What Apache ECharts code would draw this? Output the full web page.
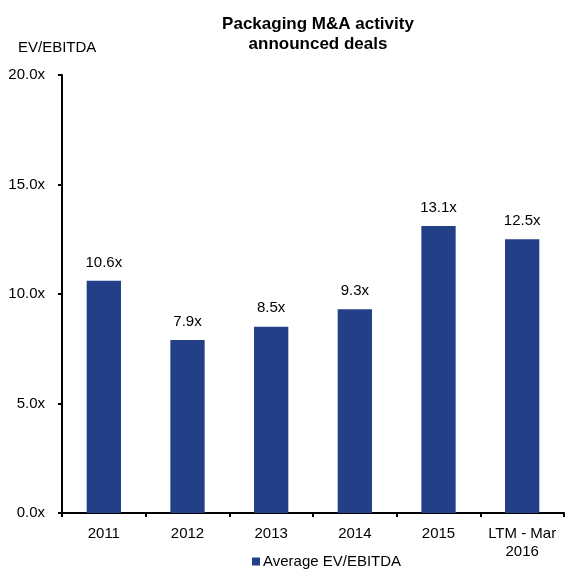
<!DOCTYPE html>
<html><head><meta charset="utf-8">
<script src="https://cdn.jsdelivr.net/npm/echarts@6/dist/echarts.min.js"></script>
<style>html,body{margin:0;padding:0;background:#fff}#c{width:566px;height:576px}</style>
</head><body><div id="c"></div>
<script>
const categories = ['2011', '2012', '2013', '2014', '2015', 'LTM - Mar\n2016'];
const values = [10.6, 7.9, 8.5, 9.3, 13.1, 12.5];
const seriesName = 'Average EV/EBITDA';
const font = 'Arial, "Liberation Sans", sans-serif';
const chart = echarts.init(document.getElementById('c'));
chart.setOption({
  animation: false,
  textStyle: { fontFamily: font },
  title: {
    text: 'Packaging M&A activity\nannounced deals',
    left: 313, textAlign: 'center', top: 9,
    textStyle: { fontSize: 17, fontWeight: 'bold', color: '#000', lineHeight: 20, fontFamily: font }
  },
  graphic: [{ type: 'text', left: 18, top: 40, style: { text: 'EV/EBITDA', fontSize: 15, fill: '#000', fontFamily: font } }],
  legend: {
    bottom: 2, left: 247, itemWidth: 8, itemHeight: 8, itemGap: 5,
    icon: 'rect',
    textStyle: { fontSize: 15, color: '#000', fontFamily: font, padding: [0, 0, 0, -2] },
    data: [seriesName]
  },
  grid: { left: 62, right: 2, top: 75, bottom: 63, containLabel: false },
  xAxis: {
    type: 'category', data: categories,
    axisLine: { lineStyle: { color: '#000', width: 2 } },
    axisTick: { show: true, length: 4, lineStyle: { color: '#000', width: 2 } },
    axisLabel: { color: '#000', fontSize: 15, margin: 12, lineHeight: 18, interval: 0 }
  },
  yAxis: {
    type: 'value', min: 0, max: 20, interval: 5,
    splitLine: { show: false },
    axisLine: { show: true, lineStyle: { color: '#000', width: 2 } },
    axisTick: { show: true, length: 4, lineStyle: { color: '#000', width: 2 } },
    axisLabel: { color: '#000', fontSize: 15, margin: 17, formatter: v => v.toFixed(1) + 'x' }
  },
  series: [{
    name: seriesName, type: 'bar', data: values, barWidth: '41%',
    itemStyle: { color: '#233F88' },
    label: { show: true, position: 'top', distance: 11, color: '#000', fontSize: 15, formatter: p => p.value.toFixed(1) + 'x' }
  }]
});
</script></body></html>
